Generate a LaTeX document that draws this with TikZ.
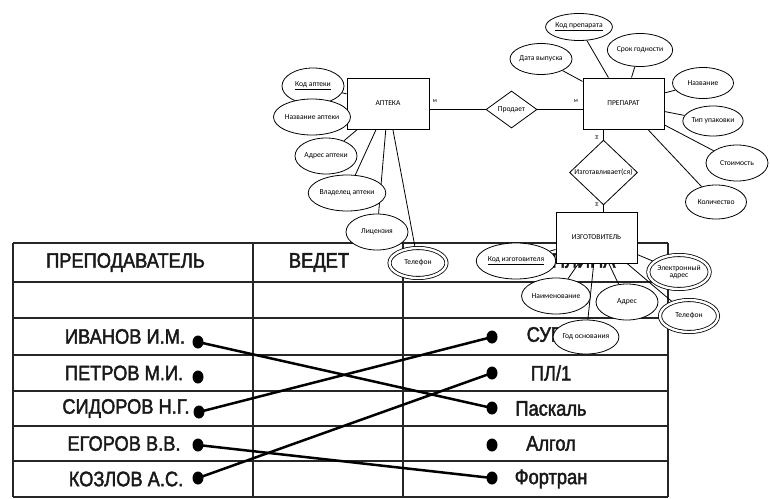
\documentclass[tikz,border=0pt]{standalone}
\usepackage{fontspec}
\setmainfont{Carlito}
\newfontfamily\tabfont[FakeStretch=0.87,FakeBold=2]{Liberation Sans}
\usetikzlibrary{shapes.geometric}
\pgfdeclarelayer{front}
\pgfsetlayers{main,front}
\begin{document}
\begin{tikzpicture}[x=1pt,y=-1pt,
  grid/.style={line width=1.3pt, draw=black!85},
  tabtext/.style={font=\tabfont\fontsize{21}{22}\selectfont, inner sep=0pt, text=black!90},
  dot/.style={ellipse, fill=black, minimum width=11pt, minimum height=13pt, inner sep=0pt},
  conn/.style={line width=2.5pt, line cap=round},
  erline/.style={line width=0.8pt},
  entity/.style={draw, rectangle, fill=white, line width=0.9pt, font=\fontsize{7.5}{8}\selectfont, inner sep=0pt},
  attr/.style={draw, ellipse, fill=white, line width=0.8pt, inner sep=0pt, font=\fontsize{7.6}{8}\selectfont, align=center},
  mattr/.style={attr, double, double distance=2.4pt},
  rel/.style={draw, diamond, fill=white, line width=0.8pt, inner sep=0pt, font=\fontsize{7.6}{8}\selectfont},
  card/.style={font=\fontsize{6}{6}\selectfont, inner sep=0pt}]
\useasboundingbox (0,0) rectangle (770,498);

% ---------- table: teachers and disciplines ----------
\foreach \yy in {243,282,318,355,391,426,461,497}
  \draw[grid] (13,\yy) -- (668,\yy);
\foreach \xx in {13,253,403,668}
  \draw[grid] (\xx,243) -- (\xx,497);

\node[tabtext] (hT) at (125.5,262.5) {ПРЕПОДАВАТЕЛЬ};
\node[tabtext] (hV) at (319,262.5) {ВЕДЕТ};
\node[tabtext] (hD) at (551,262.5) {ДИСЦИПЛИНА};

\node[tabtext] (t1) at (125,336.5) {ИВАНОВ И.М.};
\node[tabtext] (t2) at (124,373) {ПЕТРОВ М.И.};
\node[tabtext] (t3) at (126,408.5) {СИДОРОВ Н.Г.};
\node[tabtext] (t4) at (124,443.5) {ЕГОРОВ В.В.};
\node[tabtext] (t5) at (126,479) {КОЗЛОВ А.С.};

\node[tabtext] (d1) at (551,336.5) {СУБД};
\node[tabtext] (d2) at (551,373) {ПЛ/1};
\node[tabtext] (d3) at (551,408.5) {Паскаль};
\node[tabtext] (d4) at (551,443.5) {Алгол};
\node[tabtext] (d5) at (551,479) {Фортран};

\node[dot] (l1) at (198,342) {};
\node[dot] (l2) at (198,377) {};
\node[dot] (l3) at (199,412) {};
\node[dot] (l4) at (198,445) {};
\node[dot] (l5) at (198,478) {};
\node[dot] (r1) at (492,337) {};
\node[dot] (r2) at (492,373) {};
\node[dot] (r3) at (492,408) {};
\node[dot] (r4) at (492,445) {};
\node[dot] (r5) at (492,478) {};

\draw[conn] (l1.center) -- (r3.center);
\draw[conn] (l3.center) -- (r1.center);
\draw[conn] (l4.center) -- (r5.center);
\draw[conn] (l5.center) -- (r2.center);

% ---------- ER model: pharmacy, drug, manufacturer ----------
\begin{pgfonlayer}{front}
\node[entity, minimum width=82pt, minimum height=51pt] (apt) at (388,103.5) {АПТЕКА};
\node[entity, minimum width=81pt, minimum height=51pt] (prep) at (623.5,103.5) {ПРЕПАРАТ};
\node[entity, minimum width=81pt, minimum height=51pt] (izg) at (596.5,237.5) {ИЗГОТОВИТЕЛЬ};

\node[rel, minimum width=51pt, minimum height=37pt] (sell) at (511.5,109.5) {Продает};
\node[rel, minimum width=68pt, minimum height=37pt] (make) at (603.5,172.5) {Изготавливает(ся)};

% pharmacy attributes
\node[attr, minimum width=62pt, minimum height=36pt] (a1) at (313,86) {\underline{Код аптеки}};
\node[attr, minimum width=62pt, minimum height=36pt] (a2) at (312,117) {Название аптеки};
\node[attr, minimum width=62pt, minimum height=36pt] (a3) at (326,156) {Адрес аптеки};
\node[attr, minimum width=62pt, minimum height=36pt] (a4) at (347,193) {Владелец аптеки};
\node[attr, minimum width=62pt, minimum height=36pt] (a5) at (377,232) {Лицензия};
\node[mattr, minimum width=57pt, minimum height=30pt] (a6) at (418,263) {Телефон};

% drug attributes
\node[attr, minimum width=55pt, minimum height=27pt] (p1) at (579,27) {\underline{Код препарата}};
\node[attr, minimum width=62pt, minimum height=31pt] (p2) at (541,59) {Дата выпуска};
\node[attr, minimum width=55pt, minimum height=33pt] (p3) at (640,50) {Срок годности};
\node[attr, minimum width=61pt, minimum height=31pt] (p4) at (703,83) {Название};
\node[attr, minimum width=57pt, minimum height=30pt] (p5) at (713,121) {Тип упаковки};
\node[attr, minimum width=62pt, minimum height=36pt] (p6) at (737,163) {Стоимость};
\node[attr, minimum width=61pt, minimum height=34pt] (p7) at (716,202) {Количество};

% manufacturer attributes
\node[attr, minimum width=62pt, minimum height=36pt] (m1) at (516,261) {\underline{Код изготовителя}};
\node[attr, minimum width=64pt, minimum height=36pt] (m2) at (556,296) {Наименование};
\node[attr, minimum width=60pt, minimum height=34pt] (m3) at (586,337) {Год основания};
\node[attr, minimum width=62pt, minimum height=36pt] (m4) at (627,302) {Адрес};
\node[mattr, minimum width=58pt, minimum height=34pt] (m5) at (679,272) {Электронный\\[-1pt]адрес};
\node[mattr, minimum width=58pt, minimum height=32pt] (m6) at (689,316) {Телефон};
\end{pgfonlayer}

% relationship lines
\draw[erline] (sell.west) -- (sell.west -| apt.east);
\draw[erline] (sell.east) -- (sell.east -| prep.west);
\draw[erline] (make.north) -- (make.north |- prep.south);
\draw[erline] (make.south) -- (make.south |- izg.north);

% cardinality marks
\node[card] (c1) at (435,101) {м};
\node[card] (c2) at (576,101) {м};
\node[card, rotate=90] (c3) at (597,137) {м};
\node[card, rotate=90] (c4) at (597,204) {м};

% attribute lines
\foreach \a in {a1,a2,a3,a4,a5,a6}
  \draw[erline] (\a) -- (apt);
\foreach \a in {p1,p2,p3,p4,p5,p6,p7}
  \draw[erline] (\a) -- (prep);
\foreach \a in {m1,m2,m3,m4,m5,m6}
  \draw[erline] (\a) -- (izg);
\end{tikzpicture}
\end{document}
